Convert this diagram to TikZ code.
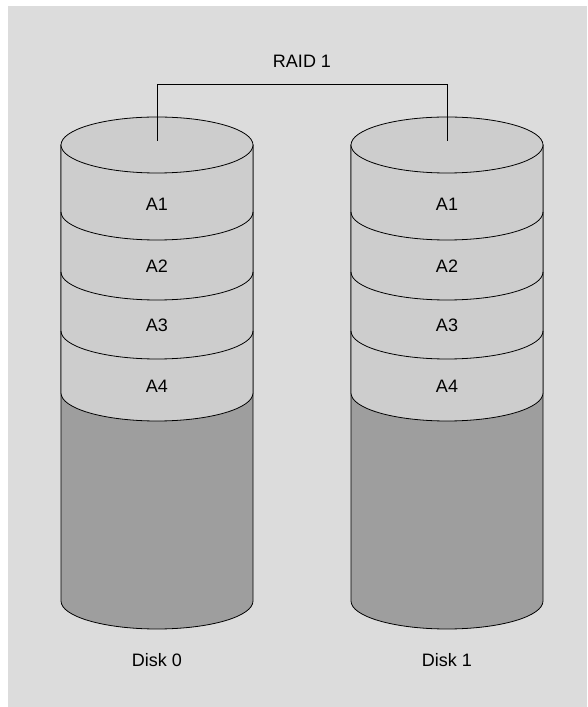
\documentclass[tikz,border=0pt]{standalone}
\usepackage{fontspec}
\setmainfont{Liberation Sans}
\usepackage{xcolor}
\usetikzlibrary{positioning}
\definecolor{bggray}{HTML}{DCDCDC}
\definecolor{bandgray}{HTML}{CDCDCD}
\definecolor{freegray}{HTML}{9E9E9E}
\tikzset{
	disklabel/.style={inner sep=0pt, font=\fontsize{18}{21}\selectfont},
	blocklabel/.style={inner sep=0pt, font=\fontsize{18}{21}\selectfont},
	diskline/.style={draw=black, line width=0.8pt},
	lowerarc/.style={start angle=180, end angle=360, x radius=96, y radius=28}
}
\begin{document}
\begin{tikzpicture}[x=1pt,y=1pt]
	\useasboundingbox (0,0) rectangle (587,707);
	\fill [bggray] (8,0) rectangle (587,701);
	\foreach \cx/\n in {157/0,447/1} {
		\filldraw [diskline, fill=freegray] (\cx-96,562) -- (\cx-96,106) arc [lowerarc] -- (\cx+96,562) -- cycle;
		\filldraw [diskline, fill=bandgray] (\cx-96,562) -- (\cx-96,314) arc [lowerarc] -- (\cx+96,562) -- cycle;
		\foreach \yb in {495,435,376}
			\draw [diskline] (\cx-96,\yb) arc [lowerarc];
		\filldraw [diskline, fill=bandgray] (\cx,562) ellipse [x radius=96, y radius=28];
		\coordinate (top\n) at (\cx,566);
		\foreach \i/\ya in {1/503,2/441,3/382,4/321}
			\node [blocklabel] (a\i-\n) at (\cx,\ya) {A\i};
		\node [disklabel] (disk\n) at (\cx,47) {Disk \n};
	}
	\node [disklabel] (raid) at (302,646) {RAID 1};
	\draw [diskline] (top0) -- ++(0,57) -| (top1);
\end{tikzpicture}
\end{document}
